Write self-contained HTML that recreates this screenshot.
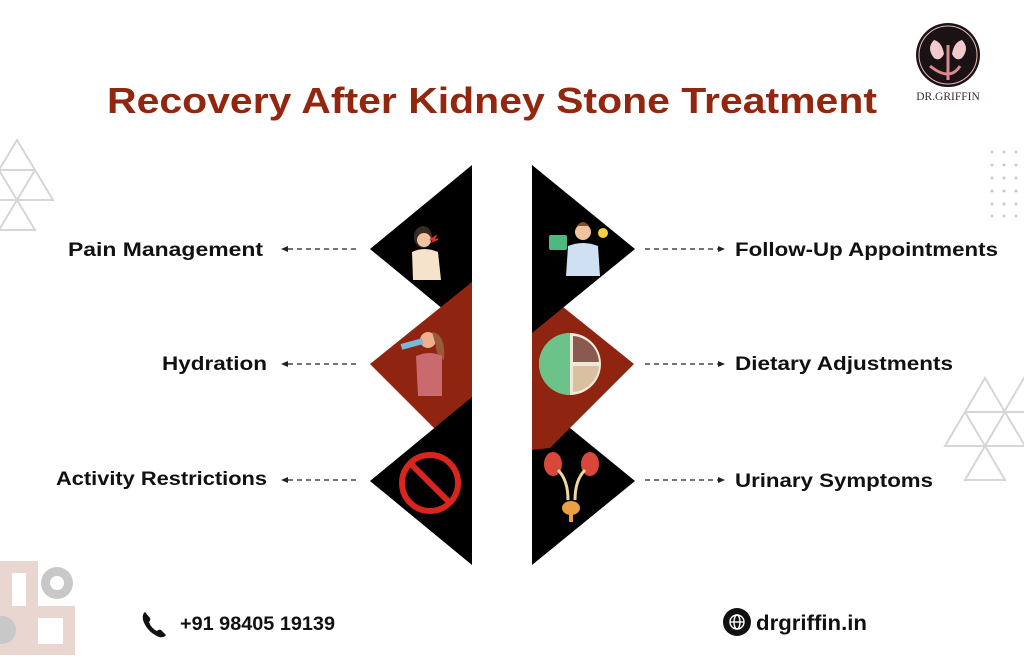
<!DOCTYPE html>
<html><head><meta charset="utf-8"><style>
html,body{margin:0;padding:0;background:#fff;}
svg{display:block;}
text{font-family:"Liberation Sans",sans-serif;font-weight:bold;}
</style></head><body>
<svg width="1024" height="671" viewBox="0 0 1024 671" xmlns="http://www.w3.org/2000/svg">
<rect width="1024" height="671" fill="#fff"/>
<g fill="none" stroke="#d6d6d6" stroke-width="2">
<path d="M17,140 L35,170 L-1,170 Z M35,170 L53,200 L17,200 Z M-1,170 L17,200 L-19,200 Z M17,200 L35,230 L-1,230 Z"/>
<path d="M985,378 L1005,412 L965,412 Z M1024,378 L1044,412 L1004,412 Z M965,412 L985,446 L945,446 Z M1005,412 L1025,446 L985,446 Z M985,446 L1005,480 L965,480 Z"/>
</g>
<g fill="#c9c9c9">
<circle cx="992" cy="152" r="1.5"/><circle cx="1004" cy="152" r="1.5"/><circle cx="1016" cy="152" r="1.5"/>
<circle cx="992" cy="165" r="1.5"/><circle cx="1004" cy="165" r="1.5"/><circle cx="1016" cy="165" r="1.5"/>
<circle cx="992" cy="178" r="1.5"/><circle cx="1004" cy="178" r="1.5"/><circle cx="1016" cy="178" r="1.5"/>
<circle cx="992" cy="191" r="1.5"/><circle cx="1004" cy="191" r="1.5"/><circle cx="1016" cy="191" r="1.5"/>
<circle cx="992" cy="204" r="1.5"/><circle cx="1004" cy="204" r="1.5"/><circle cx="1016" cy="204" r="1.5"/>
<circle cx="992" cy="216" r="1.5"/><circle cx="1004" cy="216" r="1.5"/><circle cx="1016" cy="216" r="1.5"/>
</g>
<g>
<path d="M0,561 L38,561 L38,606 L75,606 L75,655 L0,655 Z M12,573 L26,573 L26,606 L12,606 Z" fill="#ead6d0" fill-rule="evenodd"/>
<rect x="38" y="618" width="25" height="26" fill="#fff"/>
<circle cx="57" cy="583" r="16" fill="#c8c8c8"/><circle cx="57" cy="583" r="7" fill="#fff"/>
<circle cx="2" cy="630" r="14" fill="#c8c8c8"/>
</g>
<circle cx="948" cy="55" r="32" fill="#1a1214"/>
<circle cx="948" cy="55" r="29" fill="none" stroke="#e8b8b8" stroke-width="1"/>
<path d="M934,40 q-8,8 0,18 q6,4 10,-4 q-2,-12 -10,-14Z M962,40 q8,8 0,18 q-6,4 -10,-4 q2,-12 10,-14Z" fill="#f2c9cc"/>
<path d="M948,45 L948,80 M930,66 q20,16 30,0" stroke="#d98a90" stroke-width="3" fill="none"/>
<text x="948" y="100" text-anchor="middle" font-size="11.5" fill="#3a2a2a" style="font-family:'Liberation Serif',serif;font-weight:normal">DR.GRIFFIN</text>
<text x="107" y="113" font-size="36" fill="#93260e" textLength="770" lengthAdjust="spacingAndGlyphs">Recovery After Kidney Stone Treatment</text>
<polygon points="472,165 370,249 472,333" fill="#000"/>
<polygon points="472,282 370,364 454,448 472,430" fill="#8f2410"/>
<polygon points="472,397 370,481 472,565" fill="#000"/>
<polygon points="532,397 635,481 532,565" fill="#000"/>
<polygon points="532,282 634,364 550,448 532,450" fill="#8f2410"/>
<polygon points="532,165 635,249 532,333" fill="#000"/>
<g>
<ellipse cx="423" cy="237" rx="9" ry="11" fill="#3a2a22"/><circle cx="424" cy="240" r="7" fill="#f0c2a0"/>
<path d="M412,252 q12,-6 26,0 l3,28 l-28,0 z" fill="#f5e3cc"/>
<path d="M430,240 l5,-3 l-2,4 l5,-2" stroke="#e0302a" stroke-width="2" fill="none"/>
<circle cx="428" cy="340" r="8" fill="#f0b090"/><path d="M432,332 q14,2 12,28 q-8,-4 -8,-14z" fill="#9a5a3a"/>
<path d="M416,356 q14,-6 26,0 l0,40 l-24,0 z" fill="#c86a6e"/>
<rect x="401" y="341" width="22" height="6" fill="#7ab8d8" transform="rotate(-15 412 344)"/>
<circle cx="430" cy="483" r="28" fill="none" stroke="#d9261c" stroke-width="6"/>
<line x1="411" y1="464" x2="449" y2="502" stroke="#d9261c" stroke-width="6"/>
<circle cx="583" cy="232" r="8" fill="#f0c2a0"/><path d="M577,226 q6,-8 12,0z" fill="#8a4a2a"/>
<path d="M568,246 q15,-6 30,0 l2,30 l-34,0z" fill="#cfe0f2"/>
<rect x="549" y="235" width="18" height="15" rx="2" fill="#4fb880"/>
<circle cx="603" cy="233" r="5" fill="#f6d040"/>
<circle cx="570" cy="364" r="31" fill="#f0e8d8"/>
<path d="M570,333 a31,31 0 0 0 0,62z" fill="#6bc38a"/>
<path d="M573,336 l0,26 l26,0 a28,28 0 0 0 -26,-26z" fill="#8a5a50"/>
<path d="M573,366 l26,0 a28,28 0 0 1 -26,26z" fill="#d8c0a0"/>
<ellipse cx="553" cy="464" rx="9" ry="12" fill="#d9463a"/><ellipse cx="590" cy="464" rx="9" ry="12" fill="#d9463a"/>
<path d="M558,470 q10,10 10,30 M585,470 q-10,10 -10,30" stroke="#f0d8a0" stroke-width="3" fill="none"/>
<ellipse cx="571" cy="508" rx="9" ry="7" fill="#e8a040"/><rect x="569" y="513" width="4" height="9" fill="#e8a040"/>
</g>
<g font-size="19" fill="#111" lengthAdjust="spacingAndGlyphs">
<text x="68" y="256" textLength="195" lengthAdjust="spacingAndGlyphs">Pain Management</text>
<text x="162" y="370" textLength="105" lengthAdjust="spacingAndGlyphs">Hydration</text>
<text x="56" y="485" textLength="211" lengthAdjust="spacingAndGlyphs">Activity Restrictions</text>
<text x="735" y="256" textLength="263" lengthAdjust="spacingAndGlyphs">Follow-Up Appointments</text>
<text x="735" y="370" textLength="218" lengthAdjust="spacingAndGlyphs">Dietary Adjustments</text>
<text x="735" y="487" textLength="198" lengthAdjust="spacingAndGlyphs">Urinary Symptoms</text>
</g>
<g stroke="#222" stroke-width="1.3" stroke-dasharray="5,4" fill="none">
<line x1="288" y1="249" x2="360" y2="249"/><line x1="288" y1="364" x2="360" y2="364"/><line x1="288" y1="480" x2="360" y2="480"/>
<line x1="645" y1="249" x2="718" y2="249"/><line x1="645" y1="364" x2="718" y2="364"/><line x1="645" y1="480" x2="718" y2="480"/>
</g>
<g fill="#222">
<polygon points="281,249 288,246 288,252"/><polygon points="281,364 288,361 288,367"/><polygon points="281,480 288,477 288,483"/>
<polygon points="725,249 718,246 718,252"/><polygon points="725,364 718,361 718,367"/><polygon points="725,480 718,477 718,483"/>
</g>
<path d="M145,612 q-3,2 -2,8 q4,12 16,17 q5,1 7,-2 l-5,-5 q-2,-1 -4,1 q-6,-3 -8,-9 q2,-2 1,-4 z" fill="#111"/>
<text x="180" y="630" font-size="19" fill="#111" textLength="155" lengthAdjust="spacingAndGlyphs">+91 98405 19139</text>
<circle cx="737" cy="622" r="14" fill="#111"/>
<g stroke="#fff" stroke-width="1.4" fill="none"><circle cx="737" cy="622" r="7"/><ellipse cx="737" cy="622" rx="3" ry="7"/><line x1="730" y1="622" x2="744" y2="622"/></g>
<text x="756" y="630" font-size="21" fill="#111" textLength="111" lengthAdjust="spacingAndGlyphs">drgriffin.in</text>
</svg>
</body></html>
